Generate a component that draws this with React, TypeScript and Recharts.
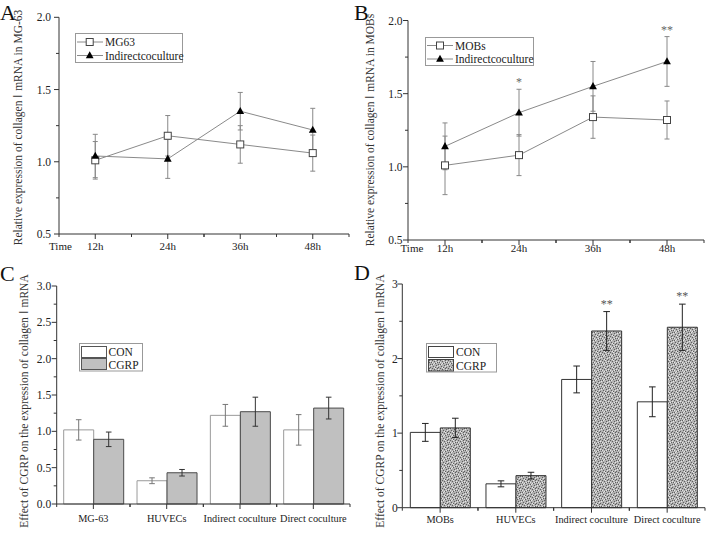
import React from 'react';
import { LineChart, Line, BarChart, Bar, XAxis, YAxis, ErrorBar, LabelList } from 'recharts';

const FONT = "'Liberation Serif', 'Times New Roman', Times, serif";
const AXIS = '#333';

// ---------- Panel A / B (time course) ----------
const timeLabels = ['12h', '24h', '36h', '48h'];
const timeAxisTitle = 'Time';

const aMG63 = [1.01, 1.18, 1.12, 1.06];
const aMG63Err = [0.13, 0.14, 0.13, 0.125];
const aIndirect = [1.04, 1.02, 1.35, 1.22];
const aIndirectErr = [0.15, 0.135, 0.13, 0.15];

const bMOBs = [1.01, 1.08, 1.34, 1.32];
const bMOBsErr = [0.2, 0.14, 0.145, 0.13];
const bIndirect = [1.14, 1.37, 1.55, 1.72];
const bIndirectErr = [0.16, 0.16, 0.17, 0.17];
const bSig = ['', '*', '', '**'];

const lineTicks = [0.5, 0.75, 1.0, 1.25, 1.5, 1.75, 2.0];
const lineMajorTicks = [0.5, 1.0, 1.5, 2.0];

// ---------- Panel C / D (bars) ----------
const cCategories = ['MG-63', 'HUVECs', 'Indirect coculture', 'Direct coculture'];
const cCON = [1.02, 0.32, 1.22, 1.02];
const cCONErr = [0.14, 0.04, 0.15, 0.21];
const cCGRP = [0.89, 0.43, 1.27, 1.32];
const cCGRPErr = [0.1, 0.045, 0.2, 0.15];

const dCategories = ['MOBs', 'HUVECs', 'Indirect coculture', 'Direct coculture'];
const dCON = [1.01, 0.32, 1.72, 1.42];
const dCONErr = [0.12, 0.04, 0.18, 0.2];
const dCGRP = [1.07, 0.43, 2.37, 2.42];
const dCGRPErr = [0.13, 0.045, 0.26, 0.31];
const dSig = ['', '', '**', '**'];

const cTicks = [0, 0.25, 0.5, 0.75, 1.0, 1.25, 1.5, 1.75, 2.0, 2.25, 2.5, 2.75, 3.0];
const cMajorTicks = [0, 0.5, 1.0, 1.5, 2.0, 2.5, 3.0];
const dTicks = [0, 0.5, 1, 1.5, 2, 2.5, 3];
const dMajorTicks = [0, 1, 2, 3];

const aTitle = 'Relative expression of collagen \u2160 mRNA in MG-63';
const bTitle = 'Relative expression of collagen \u2160 mRNA in MOBs';
const cdTitle = 'Effect of CGRP on the expression of collagen \u2160 mRNA';

const aSeriesNames = ['MG63', 'Indirectcoculture'];
const bSeriesNames = ['MOBs', 'Indirectcoculture'];
const barSeriesNames = ['CON', 'CGRP'];
const panelLetters = ['A', 'B', 'C', 'D'];

const aData = timeLabels.map((t, i) => ({
  time: t, s1: aMG63[i], s1Err: aMG63Err[i], s2: aIndirect[i], s2Err: aIndirectErr[i], sig: '', sigTop: null as number | null,
}));
const bData = timeLabels.map((t, i) => ({
  time: t, s1: bMOBs[i], s1Err: bMOBsErr[i], s2: bIndirect[i], s2Err: bIndirectErr[i],
  sig: bSig[i], sigTop: bSig[i] ? bIndirect[i] + bIndirectErr[i] : null,
}));
const cData = cCategories.map((c, i) => ({ cat: c, con: cCON[i], conErr: cCONErr[i], cgrp: cCGRP[i], cgrpErr: cCGRPErr[i], sig: '' }));
const dData = dCategories.map((c, i) => ({ cat: c, con: dCON[i], conErr: dCONErr[i], cgrp: dCGRP[i], cgrpErr: dCGRPErr[i], sig: dSig[i] }));

// ---------- tick renderers ----------
const makeYTick = (o: { majors: number[]; fmt: (v: number) => string; gap: number; fontSize: number }) => (p: any) => {
  const { x, y, payload, index } = p;
  const v = payload?.value;
  const isMajor = o.majors.some((m) => Math.abs(m - v) < 1e-9);
  return (
    <g key={`yt${index}`}>
      <line x1={x} x2={x - (isMajor ? 5 : 3)} y1={y} y2={y} stroke={AXIS} strokeWidth={1} />
      {isMajor && (
        <text x={x - o.gap} y={y} dy="0.35em" textAnchor="end" fontSize={o.fontSize} fontFamily={FONT} fill="#222">
          {o.fmt(v)}
        </text>
      )}
    </g>
  );
};

const makeXTick = (o: { gap: number; fontSize: number; half: number; timeDx?: number }) => (p: any) => {
  const { x, y, payload, index } = p;
  const off = payload && typeof payload.offset === 'number' && payload.offset > 1 ? payload.offset : o.half;
  return (
    <g key={`xt${index}`}>
      <line x1={x} x2={x} y1={y} y2={y + 5} stroke={AXIS} strokeWidth={1} />
      <line x1={x - off} x2={x - off} y1={y} y2={y + 3} stroke={AXIS} strokeWidth={1} />
      <line x1={x + off} x2={x + off} y1={y} y2={y + 3} stroke={AXIS} strokeWidth={1} />
      <text x={x} y={y + o.gap} dy="0.35em" textAnchor="middle" fontSize={o.fontSize} fontFamily={FONT} fill="#222">
        {payload?.value}
      </text>
      {o.timeDx !== undefined && index === 0 && (
        <text x={x - off + o.timeDx} y={y + o.gap} dy="0.35em" textAnchor="start" fontSize={o.fontSize} fontFamily={FONT} fill="#222">
          {timeAxisTitle}
        </text>
      )}
    </g>
  );
};

const fmt1 = (v: number) => v.toFixed(1);
const fmt0 = (v: number) => String(v);

// ---------- markers ----------
const squareDot = (p: any) => {
  const { cx, cy, index } = p;
  if (cx == null || cy == null) return <g key={`sq${index}`} />;
  return <rect key={`sq${index}`} x={cx - 3.5} y={cy - 3.5} width={7} height={7} fill="#fff" stroke="#444" strokeWidth={1} />;
};
const triDot = (p: any) => {
  const { cx, cy, index } = p;
  if (cx == null || cy == null) return <g key={`tr${index}`} />;
  return <polygon key={`tr${index}`} points={`${cx},${cy - 4.3} ${cx + 3.9},${cy + 2.8} ${cx - 3.9},${cy + 2.8}`} fill="#000" />;
};

const lineSigLabel = (p: any) => {
  const { x, y, value, index } = p;
  if (!value || x == null || y == null) return null;
  return (
    <text key={`ls${index}`} x={x} y={y - 3} textAnchor="middle" fontSize={12} fontFamily={FONT} fill="#666">
      {value}
    </text>
  );
};

const barSigLabel = (p: any) => {
  const { x, y, width, height, value, index } = p;
  if (!value || index == null) return null;
  const row = dData[index];
  const pxPerUnit = height / row.cgrp;
  const errTop = y - row.cgrpErr * pxPerUnit;
  return (
    <text key={`bs${index}`} x={x + width / 2} y={errTop - 4} textAnchor="middle" fontSize={12} fontFamily={FONT} fill="#555">
      {value}
    </text>
  );
};

function TimePanel(props: {
  data: any[]; left: number; top: number; margin: any; yWidth: number; xHeight: number;
  yGap: number; xGap: number; half: number; timeDx: number;
}) {
  const { data, left, top, margin, yWidth, xHeight, yGap, xGap, half, timeDx } = props;
  return (
    <div style={{ position: 'absolute', left, top }}>
      <LineChart width={354} height={272} data={data} margin={margin}>
        <XAxis dataKey="time" scale="band" height={xHeight} interval={0} tickSize={0} tickMargin={0} tickLine={false}
          stroke={AXIS} tick={makeXTick({ gap: xGap, fontSize: 11, half, timeDx })} />
        <YAxis width={yWidth} domain={[0.5, 2]} ticks={lineTicks} interval={0} tickSize={0} tickMargin={0} tickLine={false}
          stroke={AXIS} tick={makeYTick({ majors: lineMajorTicks, fmt: fmt1, gap: yGap, fontSize: 11.5 })} />
        <Line dataKey="s1" type="linear" stroke="#8a8a8a" strokeWidth={1} dot={squareDot} activeDot={false} isAnimationActive={false}>
          <ErrorBar dataKey="s1Err" width={2.5} stroke="#888" strokeWidth={1} direction="y" />
        </Line>
        <Line dataKey="s2" type="linear" stroke="#8a8a8a" strokeWidth={1} dot={triDot} activeDot={false} isAnimationActive={false}>
          <ErrorBar dataKey="s2Err" width={2.5} stroke="#888" strokeWidth={1} direction="y" />
        </Line>
        <Line dataKey="sigTop" stroke="none" dot={false} activeDot={false} isAnimationActive={false} connectNulls={false}>
          <LabelList dataKey="sig" content={lineSigLabel} />
        </Line>
      </LineChart>
    </div>
  );
}

function BarPanel(props: {
  data: any[]; left: number; top: number; margin: any; yWidth: number; xHeight: number;
  ticks: number[]; majors: number[]; fmt: (v: number) => string; yGap: number; xGap: number; half: number;
  conStroke: string; conErrStroke: string; cgrpFill: string; cgrpStroke: string; cgrpErrStroke: string; capW: number; sig?: boolean;
}) {
  const p = props;
  return (
    <div style={{ position: 'absolute', left: p.left, top: p.top }}>
      <BarChart width={354} height={273} data={p.data} margin={p.margin} barGap={0} barSize={30}>
        <XAxis dataKey="cat" height={p.xHeight} interval={0} tickSize={0} tickMargin={0} tickLine={false}
          stroke={AXIS} tick={makeXTick({ gap: p.xGap, fontSize: 10.3, half: p.half })} />
        <YAxis width={p.yWidth} domain={[0, 3]} ticks={p.ticks} interval={0} tickSize={0} tickMargin={0} tickLine={false}
          stroke={AXIS} tick={makeYTick({ majors: p.majors, fmt: p.fmt, gap: p.yGap, fontSize: 11.5 })} />
        <Bar dataKey="con" fill="#fff" stroke={p.conStroke} strokeWidth={1} isAnimationActive={false}>
          <ErrorBar dataKey="conErr" width={p.capW} stroke={p.conErrStroke} strokeWidth={1} direction="y" />
        </Bar>
        <Bar dataKey="cgrp" fill={p.cgrpFill} stroke={p.cgrpStroke} strokeWidth={1} isAnimationActive={false}>
          <ErrorBar dataKey="cgrpErr" width={p.capW} stroke={p.cgrpErrStroke} strokeWidth={1} direction="y" />
          {p.sig && <LabelList dataKey="sig" content={barSigLabel} />}
        </Bar>
      </BarChart>
    </div>
  );
}

const speckDark: [number, number][] = [[0, 0], [5, 0], [2, 1], [7, 2], [3, 3], [0, 4], [6, 4], [4, 5], [1, 6], [6, 7], [3, 7], [5, 2]];
const speckLight: [number, number][] = [[3, 0], [6, 1], [0, 2], [4, 2], [1, 4], [7, 5], [5, 6], [2, 7], [2, 3]];

export default function App() {
  return (
    <div style={{ position: 'absolute', left: 0, top: 0, width: 708, height: 545, background: '#fff', fontFamily: FONT }}>
      <TimePanel data={aData} left={0} top={0} margin={{ top: 17.3, right: 5, left: 0, bottom: 0 }} yWidth={59} xHeight={38}
        yGap={8} xGap={12.5} half={36.25} timeDx={-10} />
      <TimePanel data={bData} left={354} top={0} margin={{ top: 20.5, right: 4, left: 0, bottom: 0 }} yWidth={54} xHeight={32}
        yGap={5.5} xGap={8.5} half={37} timeDx={-7.5} />
      <BarPanel data={cData} left={0} top={272} margin={{ top: 14, right: 4, left: 0, bottom: 0 }} yWidth={56.7} xHeight={41}
        ticks={cTicks} majors={cMajorTicks} fmt={fmt1} yGap={5.5} xGap={14.5} half={36.7}
        conStroke="#9a9a9a" conErrStroke="#777" cgrpFill="#c0c0c0" cgrpStroke="#4a4a4a" cgrpErrStroke="#333" capW={2.8} />
      <BarPanel data={dData} left={354} top={272} margin={{ top: 12, right: 3, left: 0, bottom: 0 }} yWidth={48.3} xHeight={37.3}
        ticks={dTicks} majors={dMajorTicks} fmt={fmt0} yGap={4.5} xGap={11.5} half={37.8}
        conStroke="#333" conErrStroke="#222" cgrpFill="url(#speckle)" cgrpStroke="#333" cgrpErrStroke="#222" capW={3.3} sig />

      <svg width={708} height={545} style={{ position: 'absolute', left: 0, top: 0, pointerEvents: 'none' }}>
        <defs>
          <pattern id="speckle" x={0} y={0} width={8} height={8} patternUnits="userSpaceOnUse">
            <rect x={0} y={0} width={8} height={8} fill="#b2b2b2" />
            {speckDark.map(([x, y], i) => <rect key={`d${i}`} x={x} y={y} width={1} height={1} fill="#5e5e5e" />)}
            {speckLight.map(([x, y], i) => <rect key={`l${i}`} x={x} y={y} width={1} height={1} fill="#e6e6e6" />)}
          </pattern>
        </defs>

        {/* panel letters */}
        <text x={0} y={19.5} fontSize={22} fontFamily={FONT} fill="#111">{panelLetters[0]}</text>
        <text x={354} y={19.5} fontSize={22} fontFamily={FONT} fill="#111">{panelLetters[1]}</text>
        <text x={0} y={281} fontSize={22} fontFamily={FONT} fill="#111">{panelLetters[2]}</text>
        <text x={354} y={280} fontSize={22} fontFamily={FONT} fill="#111">{panelLetters[3]}</text>

        {/* y titles */}
        <text transform="translate(18,127.5) rotate(-90)" textAnchor="middle" dy="0.35em" fontSize={11.5} fontFamily={FONT} fill="#333">{aTitle}</text>
        <text transform="translate(370,130) rotate(-90)" textAnchor="middle" dy="0.35em" fontSize={11.5} fontFamily={FONT} fill="#333">{bTitle}</text>
        <text transform="translate(24,401) rotate(-90)" textAnchor="middle" dy="0.35em" fontSize={11.5} fontFamily={FONT} fill="#333">{cdTitle}</text>
        <text transform="translate(380,401) rotate(-90)" textAnchor="middle" dy="0.35em" fontSize={11.5} fontFamily={FONT} fill="#333">{cdTitle}</text>

        {/* legend A */}
        <rect x={75.5} y={33.5} width={107} height={29} fill="#fff" stroke="#999" />
        <line x1={77} x2={103} y1={42} y2={42} stroke="#8a8a8a" />
        <rect x={86.2} y={38.5} width={7} height={7} fill="#fff" stroke="#444" />
        <text x={105} y={42} dy="0.35em" fontSize={11.5} fontFamily={FONT} fill="#222">{aSeriesNames[0]}</text>
        <line x1={77} x2={103} y1={55.5} y2={55.5} stroke="#8a8a8a" />
        <polygon points="89.7,51.2 93.6,58.3 85.8,58.3" fill="#000" />
        <text x={105} y={55.5} dy="0.35em" fontSize={11.5} fontFamily={FONT} fill="#222">{aSeriesNames[1]}</text>

        {/* legend B */}
        <rect x={425.5} y={37.5} width={108} height={28} fill="#fff" stroke="#999" />
        <line x1={427} x2={453} y1={45.5} y2={45.5} stroke="#8a8a8a" />
        <rect x={436.5} y={42} width={7} height={7} fill="#fff" stroke="#444" />
        <text x={455} y={45.5} dy="0.35em" fontSize={11.5} fontFamily={FONT} fill="#222">{bSeriesNames[0]}</text>
        <line x1={427} x2={453} y1={59} y2={59} stroke="#8a8a8a" />
        <polygon points="440,54.7 443.9,61.8 436.1,61.8" fill="#000" />
        <text x={455} y={59} dy="0.35em" fontSize={11.5} fontFamily={FONT} fill="#222">{bSeriesNames[1]}</text>

        {/* legend C */}
        <rect x={79.5} y={343.5} width={63} height={27.5} fill="#fff" stroke="#999" />
        <rect x={81.5} y={346.5} width={25} height={11} fill="#fff" stroke="#555" />
        <text x={108.5} y={352} dy="0.35em" fontSize={11.5} fontFamily={FONT} fill="#222">{barSeriesNames[0]}</text>
        <rect x={81.5} y={358.5} width={25} height={11} fill="#c0c0c0" stroke="#555" />
        <text x={108.5} y={364.5} dy="0.35em" fontSize={11.5} fontFamily={FONT} fill="#222">{barSeriesNames[1]}</text>

        {/* legend D */}
        <rect x={426.5} y={343.5} width={70} height={28.5} fill="#fff" stroke="#999" />
        <rect x={428.5} y={346.5} width={25} height={11} fill="#fff" stroke="#444" />
        <text x={456} y={352} dy="0.35em" fontSize={11.5} fontFamily={FONT} fill="#222">{barSeriesNames[0]}</text>
        <rect x={428.5} y={359.5} width={25} height={11.5} fill="url(#speckle)" stroke="#444" />
        <text x={456} y={365.5} dy="0.35em" fontSize={11.5} fontFamily={FONT} fill="#222">{barSeriesNames[1]}</text>
      </svg>
    </div>
  );
}
